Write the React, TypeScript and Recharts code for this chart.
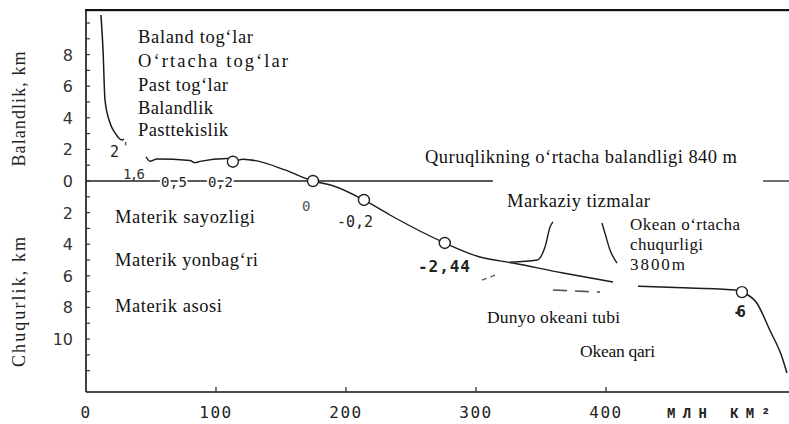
import React from 'react';
import { ComposedChart, Line, Scatter, XAxis, YAxis } from 'recharts';

// x: million km², y: km (positive = height, negative = depth)
const MOUNTAINS = [
  { x: 11.5, y: 10.5 },
  { x: 13.1, y: 8.29 },
  { x: 14.6, y: 5.13 },
  { x: 18.5, y: 3.67 },
  { x: 22.3, y: 3.04 },
  { x: 27.7, y: 2.59 },
  { x: 29.2, y: 2.66 },
];

const MAIN_CURVE = [
  { x: 46.2, y: 1.52 },
  { x: 49.2, y: 1.25 },
  { x: 54.6, y: 1.39 },
  { x: 80, y: 1.3 },
  { x: 83.8, y: 1.16 },
  { x: 87.7, y: 1.24 },
  { x: 108.5, y: 1.42 },
  { x: 113, y: 1.22 },
  { x: 120.8, y: 1.38 },
  { x: 131.5, y: 1.27 },
  { x: 153, y: 0.7 },
  { x: 174.6, y: 0 },
  { x: 190, y: -0.3 },
  { x: 213.8, y: -1.2 },
  { x: 233.8, y: -2.15 },
  { x: 276, y: -3.92 },
  { x: 303, y: -4.81 },
  { x: 328.5, y: -5.19 },
  { x: 367, y: -5.82 },
  { x: 405.4, y: -6.39 },
];

const OCEAN_FLOOR = [
  { x: 424.6, y: -6.65 },
  { x: 464.6, y: -6.77 },
  { x: 500.8, y: -6.9 },
  { x: 504.6, y: -7.03 },
  { x: 516, y: -7.72 },
  { x: 526, y: -9.43 },
  { x: 535.4, y: -11.14 },
  { x: 539.2, y: -12.15 },
];

const RIDGE_LEFT = [
  { x: 326.2, y: -5.13 },
  { x: 347, y: -5.0 },
  { x: 353.1, y: -4.18 },
  { x: 357, y: -2.91 },
  { x: 359.2, y: -2.59 },
];

const RIDGE_RIGHT = [
  { x: 396.9, y: -2.66 },
  { x: 399.2, y: -3.29 },
  { x: 403.1, y: -4.37 },
  { x: 408.5, y: -5.19 },
];

const DASH_A = [
  { x: 304.6, y: -6.27 },
  { x: 316.9, y: -5.89 },
];

const DASH_B = [
  { x: 359.2, y: -6.9 },
  { x: 376.2, y: -6.96 },
  { x: 395.4, y: -7.03 },
];

const SEA_LEVEL_LEFT = [
  { x: 0, y: 0 },
  { x: 313, y: 0 },
];

const SEA_LEVEL_RIGHT = [
  { x: 520.8, y: 0 },
  { x: 541, y: 0 },
];

const CIRCLES = [
  { x: 113, y: 1.22 },
  { x: 174.6, y: 0 },
  { x: 213.8, y: -1.2 },
  { x: 276, y: -3.92 },
  { x: 504.6, y: -7.03 },
];

const X_TICKS = [0, 100, 200, 300, 400];
const Y_TICKS = [-12, -11, -10, -9, -8, -7, -6, -5, -4, -3, -2, -1, 0, 1, 2, 3, 4, 5, 6, 7, 8, 9, 10];
const Y_LABELED = [8, 6, 4, 2, 0, -2, -4, -6, -8, -10];

const X_DOMAIN: [number, number] = [0, 540.8];
const Y_DOMAIN: [number, number] = [-13.35, 10.82];

const INK = '#1c1c1c';
const SERIF = '"Liberation Serif", "Times New Roman", serif';
const MONO = '"DejaVu Sans Mono", monospace';

const YTick = (props: any) => {
  const { x, y, payload } = props;
  const v = payload.value;
  const axisX = x + 13;
  return (
    <g>
      <line x1={axisX} x2={axisX + 4} y1={y} y2={y} stroke="#333" strokeWidth={1.2} />
      {Y_LABELED.includes(v) && (
        <text x={x} y={y + 6} textAnchor="end" fontFamily='"DejaVu Sans", sans-serif' fontSize={16} fill="#333">
          {Math.abs(v)}
        </text>
      )}
    </g>
  );
};

const XTick = (props: any) => {
  const { x, y, payload } = props;
  const axisY = y - 20;
  return (
    <g>
      {payload.value !== 0 && (
        <line x1={x} x2={x} y1={axisY} y2={axisY - 5} stroke="#333" strokeWidth={1.3} />
      )}
      <text x={x} y={y + 6} textAnchor="middle" fontFamily={MONO} fontSize={16} letterSpacing={1.5} fill="#222">
        {payload.value}
      </text>
    </g>
  );
};

const circleShape = (p: any) => (
  <circle cx={p.cx} cy={p.cy} r={5.5} fill="#fff" stroke="#222" strokeWidth={1.4} />
);

const T = ({ x, y, w, size = 18.5, children, family = SERIF, weight = 'normal', halo = false, anchor = 'start', fill = '#111' }: any) => (
  <text
    x={x}
    y={y}
    fontFamily={family}
    fontSize={size}
    fontWeight={weight}
    textLength={w}
    lengthAdjust="spacing"
    textAnchor={anchor}
    fill={fill}
    stroke={halo ? '#fff' : undefined}
    strokeWidth={halo ? 4 : undefined}
    paintOrder={halo ? 'stroke' : undefined}
  >
    {children}
  </text>
);

export default function App() {
  return (
    <div style={{ position: 'absolute', left: 0, top: 0, width: 789, height: 424, background: '#fff' }}>
      <ComposedChart width={789} height={424} margin={{ top: 10, right: 0, bottom: 0, left: 0 }}>
        <XAxis
          type="number"
          dataKey="x"
          domain={X_DOMAIN}
          ticks={X_TICKS}
          interval={0}
          allowDataOverflow
          height={32}
          tickSize={0}
          tickMargin={20}
          tick={<XTick />}
          axisLine={{ stroke: '#111', strokeWidth: 1.6 }}
          tickLine={false}
        />
        <YAxis
          type="number"
          domain={Y_DOMAIN}
          ticks={Y_TICKS}
          interval={0}
          allowDataOverflow
          width={86}
          tickSize={0}
          tickMargin={13}
          tick={<YTick />}
          axisLine={{ stroke: '#111', strokeWidth: 1.6 }}
          tickLine={false}
        />
        <Line data={SEA_LEVEL_LEFT} dataKey="y" type="linear" stroke="#222" strokeWidth={1.3} dot={false} isAnimationActive={false} />
        <Line data={SEA_LEVEL_RIGHT} dataKey="y" type="linear" stroke="#222" strokeWidth={1.3} dot={false} isAnimationActive={false} />
        <Line data={MOUNTAINS} dataKey="y" type="monotone" stroke={INK} strokeWidth={1.5} dot={false} isAnimationActive={false} />
        <Line data={MAIN_CURVE} dataKey="y" type="monotone" stroke={INK} strokeWidth={1.4} dot={false} isAnimationActive={false} />
        <Line data={OCEAN_FLOOR} dataKey="y" type="monotone" stroke={INK} strokeWidth={1.5} dot={false} isAnimationActive={false} />
        <Line data={RIDGE_LEFT} dataKey="y" type="monotone" stroke={INK} strokeWidth={1.4} dot={false} isAnimationActive={false} />
        <Line data={RIDGE_RIGHT} dataKey="y" type="monotone" stroke={INK} strokeWidth={1.4} dot={false} isAnimationActive={false} />
        <Line data={DASH_A} dataKey="y" type="linear" stroke="#555" strokeWidth={1.2} strokeDasharray="5 4" dot={false} isAnimationActive={false} />
        <Line data={DASH_B} dataKey="y" type="linear" stroke="#555" strokeWidth={1.6} strokeDasharray="14 8" dot={false} isAnimationActive={false} />
        <Scatter data={CIRCLES} dataKey="y" shape={circleShape} isAnimationActive={false} />
      </ComposedChart>
      <svg width={789} height={424} style={{ position: 'absolute', left: 0, top: 0, pointerEvents: 'none' }}>
        <rect x={85} y={9} width={704} height={2.2} fill="#111" />

        <text x={25} y={109} transform="rotate(-90 25 109)" textAnchor="middle" fontFamily={SERIF} fontSize={18} fill="#222" textLength={115} lengthAdjust="spacing">Balandlik, km</text>
        <text x={25} y={302} transform="rotate(-90 25 302)" textAnchor="middle" fontFamily={SERIF} fontSize={18} fill="#222" textLength={130} lengthAdjust="spacing">Chuqurlik, km</text>

        <T x={138} y={43} w={115}>Baland tog‘lar</T>
        <T x={138} y={67} w={150}>O‘rtacha tog‘lar</T>
        <T x={138} y={91} w={90}>Past tog‘lar</T>
        <T x={138} y={114} w={75}>Balandlik</T>
        <T x={138} y={136} w={90}>Pasttekislik</T>

        <T x={115} y={223} w={140}>Materik sayozligi</T>
        <T x={115} y={266} w={143}>Materik yonbag‘ri</T>
        <T x={115} y={312} w={107}>Materik asosi</T>

        <T x={425} y={163} w={312}>Quruqlikning o‘rtacha balandligi 840 m</T>
        <T x={507} y={207} w={143}>Markaziy tizmalar</T>
        <T x={630} y={230} w={110} size={17}>Okean o‘rtacha</T>
        <T x={630} y={250} w={73} size={17}>chuqurligi</T>
        <T x={630} y={270} w={55} size={17}>3800m</T>
        <T x={487} y={323} w={133} size={17.5}>Dunyo okeani tubi</T>
        <T x={580} y={357} w={75} size={17.5}>Okean qari</T>

        <T x={110} y={157} w={10} size={15} family={MONO} fill="#222">2</T>
        <T x={122} y={151} w={3} size={12} family={MONO} fill="#222">'</T>
        <T x={123} y={179} w={22} size={14} family={MONO} fill="#333">1,6</T>
        <T x={161} y={187} w={26} size={14} family={MONO} fill="#222" halo>0,5</T>
        <T x={208} y={187} w={25} size={14} family={MONO} fill="#222" halo>0,2</T>
        <T x={302} y={211} w={10} size={14} family={MONO} fill="#555">0</T>
        <T x={337} y={227} w={36} size={15} family={MONO} fill="#222">-0,2</T>
        <T x={418} y={272} w={52} size={16} family={MONO} weight="bold" fill="#222">-2,44</T>
        <T x={733} y={317} w={13} size={16} family={MONO} weight="bold" fill="#222">-6</T>
        <T x={667} y={418} w={103} size={14} family='"Liberation Mono", monospace' weight="bold" fill="#222">МЛН КМ²</T>
      </svg>
    </div>
  );
}
